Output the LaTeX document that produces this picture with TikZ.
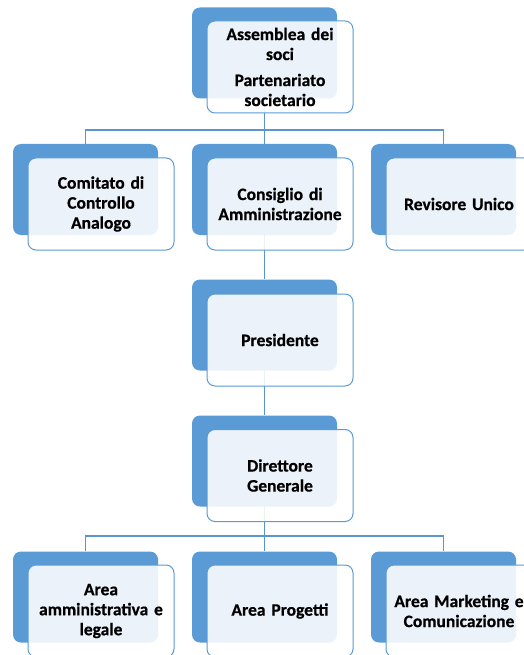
\documentclass[tikz,border=0pt]{standalone}
\usepackage{fontspec}
\setmainfont[WordSpace=0.7,BoldFeatures={FakeBold=0.6}]{Carlito}
\definecolor{cblue}{HTML}{5B9BD5}
\definecolor{cline}{HTML}{5B95CF}
\begin{document}
\begin{tikzpicture}[x=1pt,y=-1pt,
  back/.style={rectangle, rounded corners=8pt, fill=cblue, minimum width=145pt, minimum height=91pt, inner sep=0pt},
  front/.style={rectangle, rounded corners=8pt, draw=cblue, line width=1pt, fill=white, fill opacity=0.88, text opacity=1, minimum width=146pt, minimum height=92pt, align=center, font=\fontsize{17.5}{20}\selectfont\bfseries, text width=140pt, inner sep=0pt},
  conn/.style={draw=cline, line width=1.2pt}]
\useasboundingbox (0,0) rectangle (524,655);
\clip (0,0) rectangle (524,655);
% back boxes
\node[back] (bA) at (264.5,53) {};
\node[back] (bC) at (85.5,189.5) {};
\node[back] (bM) at (264.5,189.5) {};
\node[back] (bR) at (443.5,189.5) {};
\node[back] (bP) at (264.5,325) {};
\node[back] (bD) at (264.5,461) {};
\node[back] (bL) at (85.5,597) {};
\node[back] (bG) at (264.5,597) {};
\node[back] (bK) at (443.5,597) {};
% connectors
\coordinate (j1) at (264.5,130);
\coordinate (j2) at (264.5,536);
\draw[conn] (bA.south) -- (j1) -- (bM.north);
\draw[conn] (bC.north) |- (j1);
\draw[conn] (bR.north) |- (j1);
\draw[conn] (bM.south) -- (bP.north);
\draw[conn] (bP.south) -- (bD.north);
\draw[conn] (bD.south) -- (j2) -- (bG.north);
\draw[conn] (bL.north) |- (j2);
\draw[conn] (bK.north) |- (j2);
% front boxes
\node[front] (fA) at (280,67) {Assemblea dei\\soci\\[6pt]Partenariato\\societario};
\node[front] (fC) at (101,204) {Comitato di\\Controllo\\Analogo};
\node[front] (fM) at (280,204) {Consiglio di\\Amministrazione};
\node[front] (fR) at (459,204) {Revisore Unico};
\node[front] (fP) at (280,340) {Presidente};
\node[front] (fD) at (280,475.5) {Direttore\\Generale};
\node[front] (fL) at (101,611) {Area\\amministrativa e\\legale};
\node[front] (fG) at (280,611) {Area Progetti};
\node[front] (fK) at (459,611) {Area Marketing e\\Comunicazione};
\end{tikzpicture}
\end{document}
